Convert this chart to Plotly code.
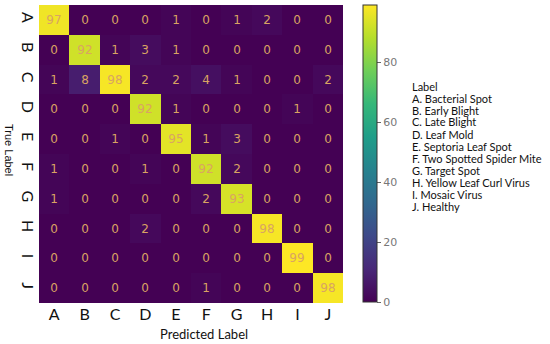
import plotly.graph_objects as go

classes = ["A", "B", "C", "D", "E", "F", "G", "H", "I", "J"]
class_names = ["A. Bacterial Spot", "B. Early Blight", "C. Late Blight", "D. Leaf Mold",
               "E. Septoria Leaf Spot", "F. Two Spotted Spider Mite", "G. Target Spot",
               "H. Yellow Leaf Curl Virus", "I. Mosaic Virus", "J. Healthy"]
row_A = [97, 0, 0, 0, 1, 0, 1, 2, 0, 0]
row_B = [0, 92, 1, 3, 1, 0, 0, 0, 0, 0]
row_C = [1, 8, 98, 2, 2, 4, 1, 0, 0, 2]
row_D = [0, 0, 0, 92, 1, 0, 0, 0, 1, 0]
row_E = [0, 0, 1, 0, 95, 1, 3, 0, 0, 0]
row_F = [1, 0, 0, 1, 0, 92, 2, 0, 0, 0]
row_G = [1, 0, 0, 0, 0, 2, 93, 0, 0, 0]
row_H = [0, 0, 0, 2, 0, 0, 0, 98, 0, 0]
row_I = [0, 0, 0, 0, 0, 0, 0, 0, 99, 0]
row_J = [0, 0, 0, 0, 0, 1, 0, 0, 0, 98]
matrix = [row_A, row_B, row_C, row_D, row_E, row_F, row_G, row_H, row_I, row_J]
cbar_ticks = [0, 20, 40, 60, 80]

W, H = 550, 344
L, R, T, B = 39, 207, 5, 41
PW, PH = W - L - R, H - T - B

def px_x(x):
    return (x - L) / PW

def px_y(y):
    return 1 - (y - T) / PH

fig = go.Figure(go.Heatmap(
    z=matrix, x=classes, y=classes,
    colorscale="Viridis", zmin=0, zmax=99,
    texttemplate="%{z}",
    textfont=dict(color="#d9a462", size=12, family="DejaVu Sans"),
    xgap=0, ygap=0,
    hoverinfo="skip",
    colorbar=dict(
        x=px_x(363), xanchor="left", y=1, yanchor="top",
        thickness=14, len=297, lenmode="pixels",
        xpad=0, ypad=0,
        outlinewidth=1, outlinecolor="#333",
        tickvals=cbar_ticks, ticks="outside", ticklen=4, tickcolor="#666",
        tickprefix="\u00a0",
        tickfont=dict(color="#777", size=11, family="DejaVu Sans"),
    ),
))

fig.update_xaxes(showgrid=False, zeroline=False, ticks="", automargin=False,
                 tickfont=dict(family="Lato", size=16, color="#111"),
                 showline=False)
fig.update_yaxes(autorange="reversed", showgrid=False, zeroline=False, ticks="",
                 automargin=False,
                 tickangle=90, tickfont=dict(family="Lato", size=16, color="#111"),
                 showline=False)

annotations = [
    dict(text="Predicted Label", x=px_x(204), y=px_y(334), xref="paper", yref="paper",
         showarrow=False, xanchor="center", yanchor="middle",
         font=dict(family="Lato", size=13, color="#111")),
    dict(text="True Label", x=px_x(9), y=px_y(150), xref="paper", yref="paper",
         showarrow=False, xanchor="center", yanchor="middle", textangle=90,
         font=dict(family="Liberation Sans", size=11, color="#111")),
]
legend_lines = ["Label"] + class_names
for i, line in enumerate(legend_lines):
    annotations.append(dict(text=line, x=px_x(410), y=px_y(86 + 12 * i),
                            xref="paper", yref="paper", showarrow=False,
                            xanchor="left", yanchor="middle",
                            font=dict(family="Lato", size=11, color="#111")))

fig.update_layout(width=W, height=H, margin=dict(l=L, r=R, t=T, b=B, autoexpand=False),
                  plot_bgcolor="white", paper_bgcolor="white",
                  annotations=annotations)
fig.write_html("out.html", config={"displayModeBar": False},
               post_script="document.body.style.margin='0';document.body.style.overflow='hidden';")
